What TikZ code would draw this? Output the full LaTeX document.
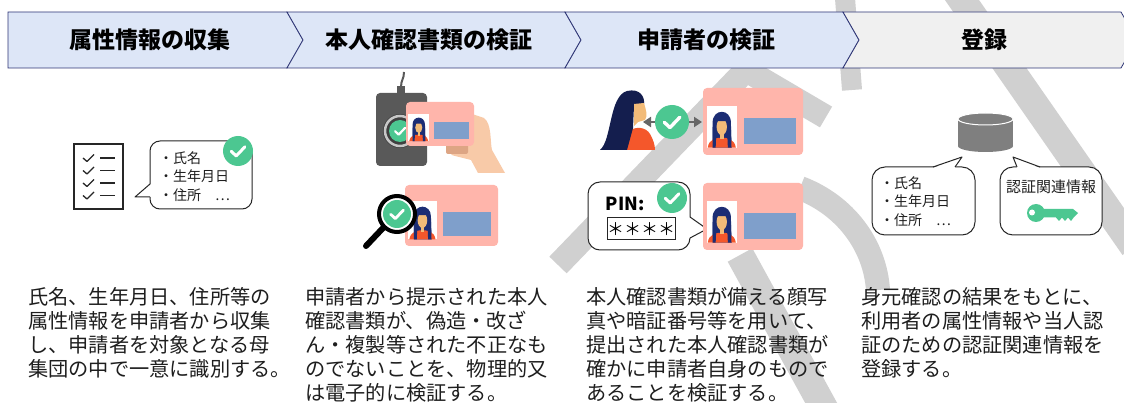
\documentclass[tikz,border=0pt]{standalone}
\usepackage{fontspec}
\usepackage{tikz}
\usetikzlibrary{arrows.meta}
\setmainfont{Noto Sans CJK JP}

\definecolor{stepblue}{HTML}{DDE6F7}
\definecolor{stepgrey}{HTML}{F0F0F0}
\definecolor{stepline}{HTML}{2E3575}
\definecolor{okgreen}{HTML}{4CC791}
\definecolor{cardpink}{HTML}{FFB5AB}
\definecolor{photoblue}{HTML}{7F9FCB}
\definecolor{hairblue}{HTML}{1C2D74}
\definecolor{hairdark}{HTML}{141E4E}
\definecolor{skin}{HTML}{F2BB78}
\definecolor{shirt}{HTML}{F4572B}
\definecolor{handskin}{HTML}{F8CAA8}
\definecolor{handshade}{HTML}{DDA584}
\definecolor{reader}{HTML}{595959}
\definecolor{dbgrey}{HTML}{7F7F7F}
\definecolor{arrgrey}{HTML}{666666}
\definecolor{wmgrey}{HTML}{D0D0D0}
\definecolor{ink}{HTML}{1E1E1E}

\tikzset{
        stepbox/.style={draw=stepline, line width=0.8pt},
        head/.style={font=\fontsize{23}{27}\selectfont\bfseries, text=black},
        body/.style={anchor=north west, inner sep=0pt, align=left, text=ink,
                font=\fontsize{20.2}{24}\selectfont},
        bubble/.style={draw=black!85, fill=white, line width=1pt},
        small/.style={inner sep=0pt, text=ink, font=\fontsize{14}{18.5}\selectfont},
        wm/.style={draw=wmgrey, line width=#1pt},
}

\newcommand{\okcheck}[3]{%
        \fill[okgreen] (#1,#2) circle[radius=#3];
        \begin{scope}[shift={(#1,#2)}]
                \draw[white, line width=0.2*#3pt, line cap=round, line join=round]
                        (-0.45*#3,0.02*#3) -- (-0.12*#3,0.33*#3) -- (0.46*#3,-0.28*#3);
        \end{scope}}

\newcommand{\girl}{%
        \fill[white] (0,0) rectangle (1,1);
        \fill[hairblue] (0.2,1) -- (0.2,0.4) .. controls (0.2,0.05) and (0.8,0.05) .. (0.8,0.4) -- (0.82,1) -- cycle;
        \fill[shirt] (0.04,1) .. controls (0.08,0.8) and (0.3,0.76) .. (0.5,0.76) .. controls (0.7,0.76) and (0.92,0.8) .. (0.96,1) -- cycle;
        \fill[hairblue] (0.2,1) -- (0.2,0.5) -- (0.33,0.5) -- (0.3,1) -- cycle;
        \fill[hairblue] (0.82,1) -- (0.8,0.5) -- (0.67,0.5) -- (0.7,1) -- cycle;
        \fill[skin] (0.44,0.6) rectangle (0.56,0.8);
        \fill[skin] (0.5,0.5) ellipse[x radius=0.17, y radius=0.2];
        \fill[hairblue] (0.32,0.45) .. controls (0.3,0.2) and (0.7,0.2) .. (0.68,0.45) -- (0.66,0.36) -- (0.34,0.36) -- cycle;}

\newcommand{\idcard}[4]{%
        \begin{scope}[shift={(#1,#2)}, x=#3pt, y=-#4pt]
                \fill[cardpink, rounded corners=4pt] (0,0) rectangle (1,1);
                \fill[photoblue] (0.41,0.45) rectangle (0.93,0.84);
                \begin{scope}[shift={(0.035,0.27)}, xscale=0.305, yscale=0.62]
                        \girl
                \end{scope}
        \end{scope}}

\begin{document}
\begin{tikzpicture}[x=1pt, y=-1pt]
        \useasboundingbox (0,0) rectangle (1124,403);
        \clip (0,0) rectangle (1124,403);
        \fill[white] (0,0) rectangle (1124,403);

        \draw[wm=24, line join=miter] (558,265) -- (746,70) -- (826,117);
        \draw[wm=20] (845,-2) -- (852,90);
        \draw[wm=28] (955,-10) -- (1134,247);
        \draw[wm=28] (740,255) -- (825,410);
        \draw[wm=24] (800,188) .. controls (845,205) and (875,245) .. (878,290);

        \filldraw[stepbox, fill=stepblue] (8,12) -- (287,12) -- (303,40) -- (287,68) -- (8,68) -- cycle;
        \filldraw[stepbox, fill=stepblue] (287,12) -- (565,12) -- (581,40) -- (565,68) -- (287,68) -- (303,40) -- cycle;
        \filldraw[stepbox, fill=stepblue] (565,12) -- (843,12) -- (859,40) -- (843,68) -- (565,68) -- (581,40) -- cycle;
        \filldraw[stepbox, fill=stepgrey] (843,12) -- (1121,12) -- (1137,40) -- (1121,68) -- (843,68) -- (859,40) -- cycle;
        \node[head] (h1) at (150,40) {属性情報の収集};
        \node[head] (h2) at (429,40) {本人確認書類の検証};
        \node[head] (h3) at (706,40) {申請者の検証};
        \node[head] (h4) at (984,40) {登録};

        \draw[black!85, line width=1.4pt] (74,144) rectangle (123,209);
        \foreach \y in {158,170.5,183,195.5} {
                \draw[black!85, line width=1.3pt, line join=round] (83,\y) -- (87,\y+3.5) -- (94,\y-3.5);
                \draw[black!85, line width=1.3pt] (100,\y) -- (115,\y);
        }
        \draw[bubble, rounded corners=10pt] (150,141) rectangle (252,209);
        \fill[white] (151,184) -- (135,197) -- (151,197) -- cycle;
        \draw[black!85, line width=1pt, line join=round] (150,184) -- (135,197) -- (150,197);
        \node[small, anchor=north west, align=left] (b1) at (159,151) {・氏名\\・生年月日\\・住所　⋯};
        \okcheck{238}{151}{15}

        \fill[reader] (397,86) rectangle (405,94);
        \draw[reader, line width=2pt] (401,87) .. controls (401,80) and (404,79) .. (404,72);
        \fill[reader, rounded corners=4pt] (376,93) rectangle (427,166);
        \fill[black!75] (400,131) circle[radius=17];
        \draw[black!22, line width=2.5pt] (400,131) circle[radius=15];
        \okcheck{400}{131}{11}
        \fill[handskin] (466,112) -- (484,118) .. controls (492,124) and (490,142) .. (492,150) -- (505,173) -- (478,173) -- (471,160) -- (455,156) .. controls (450,156) and (448,150) .. (452,146) -- cycle;
        \fill[handshade, rounded corners=2pt] (446,143) rectangle (468,154);
        \idcard{406}{102}{68}{44}

        \idcard{405}{185}{93}{61}
        \draw[black, line width=6pt, line cap=round] (366,246) -- (383,228);
        \draw[black, line width=4pt, fill=white] (397,214) circle[radius=18];
        \okcheck{397}{214}{14}

        \fill[shirt] (627,150) -- (629,131) .. controls (636,126) and (646,127) .. (650,134) .. controls (653,139) and (655,145) .. (655,150) -- cycle;
        \fill[hairdark] (600,150) .. controls (612,140) and (609,96) .. (627,91) .. controls (640,88) and (645,97) .. (644,104) -- (634,106) -- (633,128) -- (627,150) -- cycle;
        \fill[skin] (634,104) -- (644,103) .. controls (646,110) and (648,116) .. (645,120) -- (638,122) -- (634,126) -- cycle;
        \coordinate (pl) at (643,122);
        \coordinate (pr) at (702,122);
        \draw[arrgrey, line width=2.5pt, {Triangle[length=8pt,width=10pt]}-{Triangle[length=8pt,width=10pt]}] (pl) -- (pr);
        \okcheck{672}{122}{17}
        \idcard{703}{88}{100}{67}

        \draw[bubble, rounded corners=12pt] (588,182) rectangle (690,250);
        \fill[white] (689,217) -- (707,229) -- (689,238) -- cycle;
        \draw[black!85, line width=1pt, line join=round] (690,217) -- (707,229) -- (690,238);
        \node[font=\fontsize{18}{20}\selectfont\bfseries, inner sep=0pt] (pin) at (625,204) {PIN:};
        \okcheck{672}{198}{15}
        \draw[black!85, line width=1pt] (607,218) rectangle (675,240);
        \node[font=\fontsize{17}{20}\selectfont, inner sep=0pt] (pw) at (641,229) {＊＊＊＊};
        \idcard{703}{183}{100}{67}

        \fill[dbgrey] (958,119) rectangle (1013,146);
        \fill[dbgrey] (985.5,146) ellipse[x radius=27.5, y radius=6];
        \draw[white, line width=1pt, fill=dbgrey] (985.5,119) ellipse[x radius=27.5, y radius=6];
        \draw[bubble, rounded corners=13pt] (872,167) rectangle (975,235);
        \fill[white] (933,168) -- (962,157) -- (955,168) -- cycle;
        \draw[black!85, line width=1pt, line join=round] (933,167) -- (962,157) -- (955,167);
        \node[small, anchor=north west, align=left] (b2) at (880,176) {・氏名\\・生年月日\\・住所　⋯};
        \draw[bubble, rounded corners=13pt] (1000,167) rectangle (1102,235);
        \fill[white] (1017,168) -- (1013,157) -- (1040,168) -- cycle;
        \draw[black!85, line width=1pt, line join=round] (1017,167) -- (1013,157) -- (1040,167);
        \node[small, font=\fontsize{15}{18}\selectfont] (b3) at (1051,187) {認証関連情報};
        \fill[okgreen] (1036,213) circle[radius=9];
        \fill[okgreen] (1040,209) -- (1073,209) -- (1078,213) -- (1074,217) -- (1071,221) -- (1068,217.5) -- (1065,221) -- (1062,217.5) -- (1059,221) -- (1056,217.5) -- (1040,217.5) -- cycle;
        \fill[white] (1032,212.5) circle[radius=3];

        \node[body] (t1) at (28,287) {氏名、生年月日、住所等の\\属性情報を申請者から収集\\し、申請者を対象となる母\\集団の中で一意に識別する。};
        \node[body] (t2) at (305,287) {申請者から提示された本人\\確認書類が、偽造・改ざ\\ん・複製等された不正なも\\のでないことを、物理的又\\は電子的に検証する。};
        \node[body] (t3) at (586,287) {本人確認書類が備える顔写\\真や暗証番号等を用いて、\\提出された本人確認書類が\\確かに申請者自身のもので\\あることを検証する。};
        \node[body] (t4) at (861,287) {身元確認の結果をもとに、\\利用者の属性情報や当人認\\証のための認証関連情報を\\登録する。};
\end{tikzpicture}
\end{document}
